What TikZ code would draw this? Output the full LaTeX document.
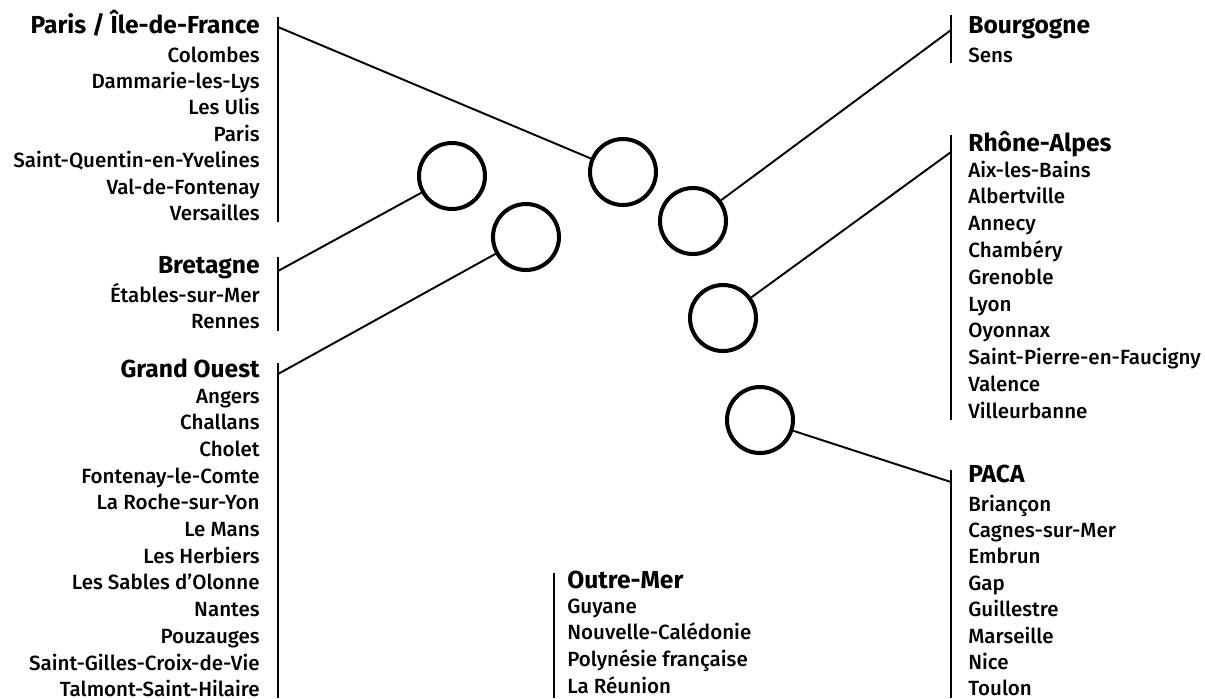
\documentclass[tikz,border=0pt]{standalone}
\usepackage{fontspec}
\setmainfont{Fira Sans Medium}[BoldFont={Fira Sans Bold}]

\tikzset{
  town/.style={inner sep=0pt, font=\fontsize{11.7}{14}\selectfont},
  region/.style={inner sep=0pt, font=\fontsize{14}{16}\selectfont\bfseries},
  hub/.style={circle, draw, line width=2.3pt, minimum size=1.32cm, inner sep=0pt},
  bracket/.style={line width=1pt},
  link/.style={line width=1.1pt}
}

\begin{document}
\begin{tikzpicture}[x=0.02cm,y=-0.02cm]
\useasboundingbox (0,0) rectangle (1205,698);

% hubs
\node[hub] (hubBre) at (452,176) {};
\node[hub] (hubOuest) at (526,237) {};
\node[hub] (hubParis) at (623,172) {};
\node[hub] (hubBourg) at (693,221) {};
\node[hub] (hubRhone) at (723,318) {};
\node[hub] (hubPaca) at (760,420) {};

% Paris / Ile-de-France
\draw[bracket] (278,17) -- (278,222);
\coordinate (jParis) at (278,27);
\node[region, anchor=base east] (paris) at (260,33) {Paris / Île-de-France};
\foreach \town [count=\i] in {Colombes, Dammarie-les-Lys, Les Ulis, Paris,
    Saint-Quentin-en-Yvelines, Val-de-Fontenay, Versailles}
  \node[town, anchor=base east] (paris-\i) at (260,{62+(\i-1)*26.4}) {\town};

% Bretagne
\draw[bracket] (278,257) -- (278,331);
\coordinate (jBre) at (278,271);
\node[region, anchor=base east] (bre) at (260,273) {Bretagne};
\foreach \town [count=\i] in {Étables-sur-Mer, Rennes}
  \node[town, anchor=base east] (bre-\i) at (260,{302+(\i-1)*26.5}) {\town};

% Grand Ouest
\draw[bracket] (278,363) -- (278,698);
\coordinate (jOuest) at (278,374);
\node[region, anchor=base east] (ouest) at (260,377) {Grand Ouest};
\foreach \town [count=\i] in {Angers, Challans, Cholet, Fontenay-le-Comte,
    La Roche-sur-Yon, Le Mans, Les Herbiers, Les Sables d'Olonne, Nantes,
    Pouzauges, Saint-Gilles-Croix-de-Vie, Talmont-Saint-Hilaire}
  \node[town, anchor=base east] (ouest-\i) at (260,{403+(\i-1)*26.7}) {\town};

% Bourgogne
\draw[bracket] (951,15) -- (951,63);
\coordinate (jBourg) at (951,30);
\node[region, anchor=base west] (bourg) at (968,33) {Bourgogne};
\node[town, anchor=base west] (bourg-1) at (968,62) {Sens};

% Rhone-Alpes
\draw[bracket] (951,135) -- (951,420);
\coordinate (jRhone) at (951,152);
\node[region, anchor=base west] (rhone) at (968,151) {Rhône-Alpes};
\foreach \town [count=\i] in {Aix-les-Bains, Albertville, Annecy, Chambéry,
    Grenoble, Lyon, Oyonnax, Saint-Pierre-en-Faucigny, Valence, Villeurbanne}
  \node[town, anchor=base west] (rhone-\i) at (968,{177+(\i-1)*26.8}) {\town};

% PACA
\draw[bracket] (951,470) -- (951,698);
\coordinate (jPaca) at (951,482);
\node[region, anchor=base west] (paca) at (968,482) {PACA};
\foreach \town [count=\i] in {Briançon, Cagnes-sur-Mer, Embrun, Gap,
    Guillestre, Marseille, Nice, Toulon}
  \node[town, anchor=base west] (paca-\i) at (968,{511+(\i-1)*26.4}) {\town};

% Outre-Mer
\draw[bracket] (554,573) -- (554,698);
\node[region, anchor=base west] (om) at (567,588) {Outre-Mer};
\foreach \town [count=\i] in {Guyane, Nouvelle-Calédonie, Polynésie française,
    La Réunion}
  \node[town, anchor=base west] (om-\i) at (567,{613+(\i-1)*26.7}) {\town};

% links
\draw[link] (jParis) -- (hubParis);
\draw[link] (jBre) -- (hubBre);
\draw[link] (jOuest) -- (hubOuest);
\draw[link] (jBourg) -- (hubBourg);
\draw[link] (jRhone) -- (hubRhone);
\draw[link] (jPaca) -- (hubPaca);
\end{tikzpicture}
\end{document}
